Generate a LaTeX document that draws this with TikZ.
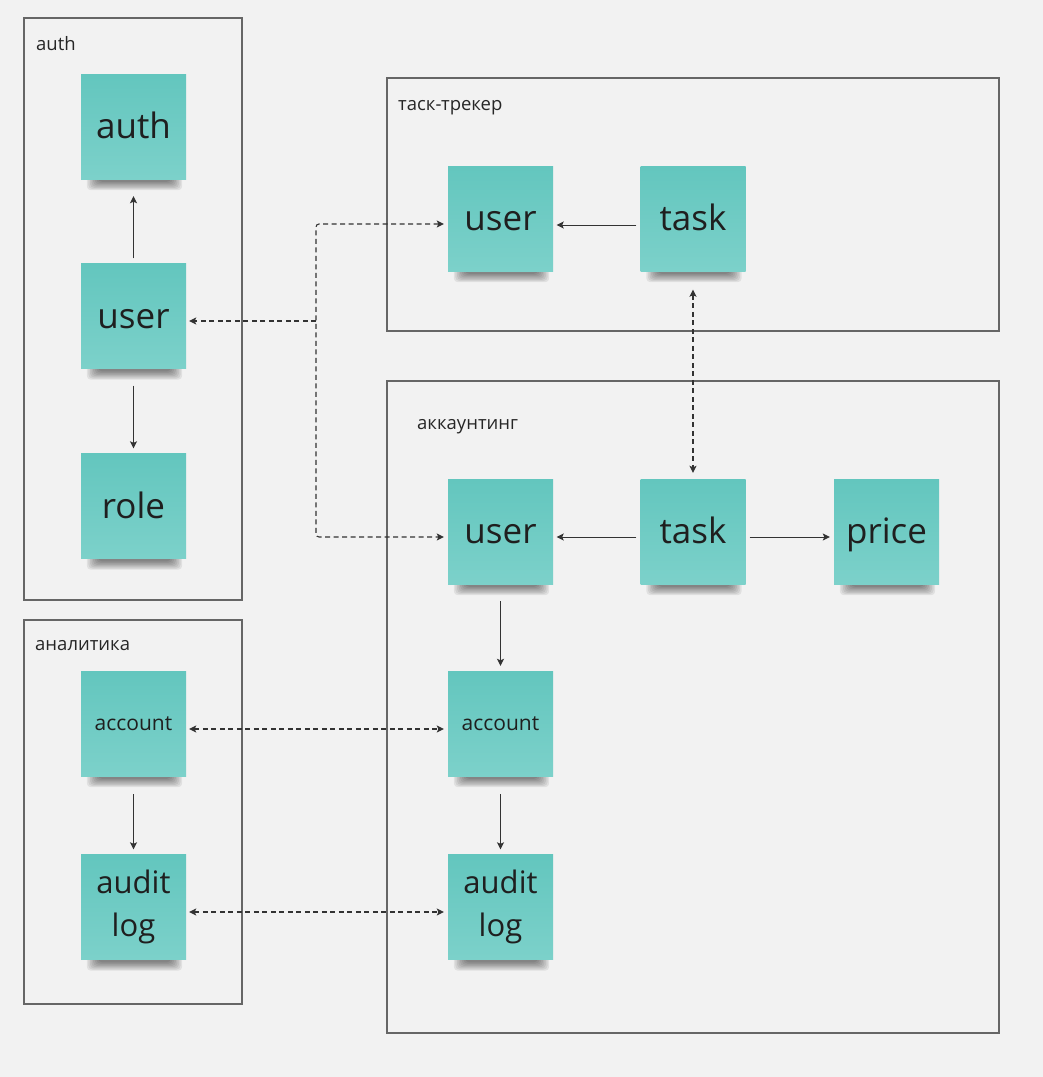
\documentclass[tikz,border=0pt]{standalone}
\usepackage{fontspec}
\setmainfont{Open Sans}
\usetikzlibrary{arrows.meta,calc,backgrounds}
\definecolor{bgcol}{HTML}{F2F2F2}
\definecolor{stickytop}{HTML}{63C6BE}
\definecolor{stickybot}{HTML}{7CD1CA}
\definecolor{framecol}{HTML}{666666}
\definecolor{linkcol}{HTML}{333333}
\tikzset{
  sticky/.style={minimum width=105pt, minimum height=105pt, inner sep=0pt, align=center,
    top color=stickytop, bottom color=stickybot, text=black!88},
  bigtext/.style={font=\fontsize{35}{40}\selectfont, text height=32pt, text depth=8pt},
  midtext/.style={font=\fontsize{31}{43}\selectfont},
  smalltext/.style={font=\fontsize{21}{25}\selectfont, text height=20pt, text depth=6pt},
  frame/.style={draw=framecol, line width=1.4pt},
  framelabel/.style={anchor=west, inner sep=0pt, text=black!85, font=\fontsize{18.5}{22}\selectfont},
  link/.style={draw=linkcol, line width=1pt, -{Stealth[length=7pt,width=7pt,inset=1.5pt]}},
  dashlink/.style={draw=linkcol, line width=1.1pt, dash pattern=on 5pt off 3.5pt,
    {Stealth[length=7pt,width=7pt,inset=1.5pt]}-{Stealth[length=7pt,width=7pt,inset=1.5pt]}},
}
\begin{document}
\begin{tikzpicture}[x=1pt, y=-1pt]
	%%%%% START %%%%%
	
	\useasboundingbox (0, 0) rectangle (1043, 1077);
	
	% frames
	\draw[frame] (24, 18) rectangle (242, 600);
	\draw[frame] (24, 620) rectangle (242, 1004);
	\draw[frame] (387, 78) rectangle (999, 331);
	\draw[frame] (387, 381) rectangle (999, 1033);
	
	\node[framelabel] (lauth) at (36, 44) {auth};
	\node[framelabel] (lanalytics) at (35, 646) {аналитика};
	\node[framelabel] (ltracker) at (398, 108) {таск-трекер};
	\node[framelabel] (laccounting) at (417, 427) {аккаунтинг};
	
	% auth
	\node[sticky, bigtext] (auth) at (133.5, 126.5) {auth};
	\node[sticky, bigtext] (authuser) at (133.5, 316) {user};
	\node[sticky, bigtext] (role) at (133.5, 506) {role};
	
	% analytics
	\node[sticky, smalltext] (anaccount) at (133.5, 723.5) {account};
	\node[sticky, midtext] (anaudit) at (133.5, 907) {audit\\log};
	
	% task tracker
	\node[sticky, bigtext] (ttuser) at (500.5, 218.5) {user};
	\node[sticky, bigtext] (tttask) at (693, 218.5) {task};
	
	% accounting
	\node[sticky, bigtext] (acuser) at (500.5, 531.5) {user};
	\node[sticky, bigtext] (actask) at (693, 531.5) {task};
	\node[sticky, bigtext] (price) at (886.5, 531.5) {price};
	\node[sticky, smalltext] (acaccount) at (500.5, 723.5) {account};
	\node[sticky, midtext] (acaudit) at (500.5, 907) {audit\\log};
	
	% background and soft shadows
	\begin{scope}[on background layer]
		\fill[bgcol] (0, 0) rectangle (1043, 1077);
		\foreach \n in {auth,authuser,role,anaccount,anaudit,ttuser,tttask,acuser,actask,price,acaccount,acaudit} {
			\foreach \i in {0,...,7} {
				\fill[black, opacity=0.07, rounded corners=4pt]
					($(\n.south west)+({6+1.6*\i}, -12)$) rectangle ($(\n.south east)+({-4-1.6*\i}, {11-1.2*\i})$);
			}
		}
	\end{scope}
	
	% solid links
	\draw[link, shorten <=5pt, shorten >=17pt] (authuser.north) -- (auth.south);
	\draw[link, shorten <=17pt, shorten >=5pt] (authuser.south) -- (role.north);
	\draw[link, shorten <=4pt, shorten >=3.5pt] ([yshift=-6.5pt]tttask.west) -- ([yshift=-6.5pt]ttuser.east);
	\draw[link, shorten <=4pt, shorten >=3.5pt] ([yshift=-5.5pt]actask.west) -- ([yshift=-5.5pt]acuser.east);
	\draw[link, shorten <=4pt, shorten >=4pt] ([yshift=-5.5pt]actask.east) -- ([yshift=-5.5pt]price.west);
	\draw[link, shorten <=17pt, shorten >=5pt] (acuser.south) -- (acaccount.north);
	\draw[link, shorten <=18pt, shorten >=5pt] (acaccount.south) -- (acaudit.north);
	\draw[link, shorten <=18pt, shorten >=5pt] (anaccount.south) -- (anaudit.north);
	
	% dashed links
	\coordinate (hub) at (316, 321);
	\draw[dashlink, rounded corners=3pt, shorten <=4pt, shorten >=4pt] ([yshift=-5.5pt]ttuser.west) -| (hub) |- ([yshift=-5.5pt]acuser.west);
	\draw[dashlink, -{Stealth[length=7pt,width=7pt,inset=1.5pt]}, shorten >=3pt] (hub) -- ([yshift=-5pt]authuser.east);
	\draw[dashlink, shorten <=18.5pt, shorten >=6pt] (tttask.south) -- (actask.north);
	\draw[dashlink, shorten <=3pt, shorten >=4pt] ([yshift=-5.5pt]anaccount.east) -- ([yshift=-5.5pt]acaccount.west);
	\draw[dashlink, shorten <=3pt, shorten >=4pt] ([yshift=-5pt]anaudit.east) -- ([yshift=-5pt]acaudit.west);
	
	%%%%% END %%%%%
\end{tikzpicture}
\end{document}
